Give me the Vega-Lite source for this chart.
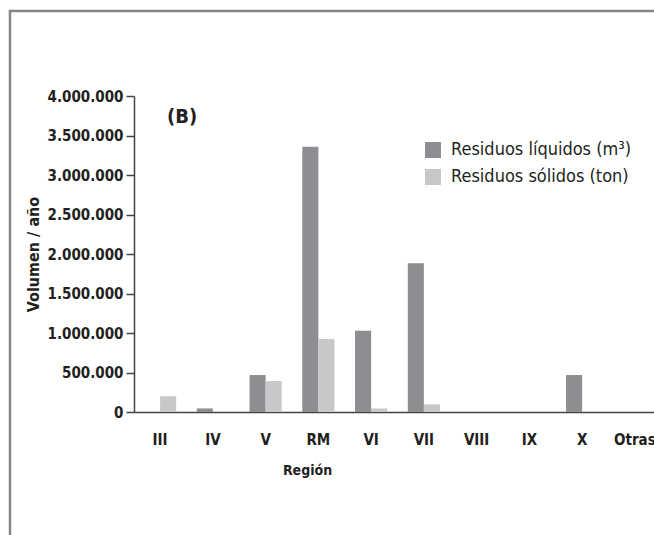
{
  "$schema": "https://vega.github.io/schema/vega-lite/v6.json",
  "width": 520,
  "height": 316,
  "autosize": {"type": "none"},
  "padding": {"left": 134, "top": 96, "right": 0, "bottom": 123},
  "background": "white",
  "title": {
    "text": "(B)",
    "anchor": "start",
    "frame": "group",
    "orient": "top",
    "offset": 0,
    "baseline": "top",
    "dx": 33,
    "dy": 117,
    "fontSize": 20,
    "fontWeight": "bold",
    "font": "DejaVu Sans Condensed",
    "color": "#231f20"
  },
  "config": {
    "locale": {"number": {"decimal": ",", "thousands": ".", "grouping": [3], "currency": ["$", ""]}},
    "font": "DejaVu Sans Condensed",
    "view": {"stroke": null},
    "axis": {"grid": false}
  },
  "layer": [
    {
      "data": {"values": [{"frame": "border"}]},
      "mark": {"type": "rect", "filled": false, "stroke": "#868686", "strokeWidth": 2.5, "clip": false},
      "encoding": {
        "x": {"datum": -0.2385, "type": "quantitative", "scale": {"domain": [0, 1], "nice": false, "zero": false}, "axis": null},
        "x2": {"datum": 1.1},
        "y": {"datum": 1.269, "type": "quantitative", "scale": {"domain": [0, 1], "nice": false, "zero": false}, "axis": null},
        "y2": {"datum": -0.6}
      }
    },
    {
      "data": {
        "values": [
          {"region": "III", "serie": "Residuos líquidos (m³)", "valor": 0},
          {"region": "III", "serie": "Residuos sólidos (ton)", "valor": 200000},
          {"region": "IV", "serie": "Residuos líquidos (m³)", "valor": 45000},
          {"region": "IV", "serie": "Residuos sólidos (ton)", "valor": 0},
          {"region": "V", "serie": "Residuos líquidos (m³)", "valor": 468000},
          {"region": "V", "serie": "Residuos sólidos (ton)", "valor": 392000},
          {"region": "RM", "serie": "Residuos líquidos (m³)", "valor": 3358000},
          {"region": "RM", "serie": "Residuos sólidos (ton)", "valor": 924000},
          {"region": "VI", "serie": "Residuos líquidos (m³)", "valor": 1030000},
          {"region": "VI", "serie": "Residuos sólidos (ton)", "valor": 45000},
          {"region": "VII", "serie": "Residuos líquidos (m³)", "valor": 1882000},
          {"region": "VII", "serie": "Residuos sólidos (ton)", "valor": 97000},
          {"region": "VIII", "serie": "Residuos líquidos (m³)", "valor": 0},
          {"region": "VIII", "serie": "Residuos sólidos (ton)", "valor": 0},
          {"region": "IX", "serie": "Residuos líquidos (m³)", "valor": 0},
          {"region": "IX", "serie": "Residuos sólidos (ton)", "valor": 0},
          {"region": "X", "serie": "Residuos líquidos (m³)", "valor": 468000},
          {"region": "X", "serie": "Residuos sólidos (ton)", "valor": 0},
          {"region": "Otras", "serie": "Residuos líquidos (m³)", "valor": 0},
          {"region": "Otras", "serie": "Residuos sólidos (ton)", "valor": 0}
        ]
      },
      "mark": {"type": "bar", "clip": false},
      "encoding": {
        "x": {
          "field": "region",
          "type": "nominal",
          "sort": ["III", "IV", "V", "RM", "VI", "VII", "VIII", "IX", "X", "Otras"],
          "scale": {"range": [0, 527], "paddingInner": 0.39, "paddingOuter": 0.19},
          "axis": {
            "title": "Región",
            "labelAngle": 0,
            "ticks": false,
            "labelPadding": 20,
            "labelFontSize": 15,
            "labelFontWeight": "bold",
            "labelColor": "#231f20",
            "titleFontSize": 14,
            "titleFontWeight": "bold",
            "titleColor": "#231f20",
            "titlePadding": 16,
            "titleX": 173,
            "domainColor": "#444444",
            "domainWidth": 1.5
          }
        },
        "xOffset": {"field": "serie", "type": "nominal", "sort": ["Residuos líquidos (m³)", "Residuos sólidos (ton)"]},
        "y": {
          "field": "valor",
          "type": "quantitative",
          "scale": {"domain": [0, 4000000], "nice": false},
          "axis": {
            "title": "Volumen / año",
            "values": [0, 500000, 1000000, 1500000, 2000000, 2500000, 3000000, 3500000, 4000000],
            "format": ",d",
            "tickSize": 8,
            "tickColor": "#444444",
            "tickWidth": 1.5,
            "labelPadding": 3,
            "labelFontSize": 15,
            "labelFontWeight": "bold",
            "labelColor": "#231f20",
            "titleFontSize": 16,
            "titleFontWeight": "bold",
            "titleColor": "#231f20",
            "titlePadding": 6,
            "domainColor": "#444444",
            "domainWidth": 1.5
          }
        },
        "color": {
          "field": "serie",
          "type": "nominal",
          "sort": ["Residuos líquidos (m³)", "Residuos sólidos (ton)"],
          "scale": {"range": ["#8d8e92", "#c7c8ca"]},
          "legend": {
            "title": null,
            "orient": "none",
            "legendX": 290,
            "legendY": 45,
            "padding": 0,
            "symbolType": "square",
            "symbolSize": 256,
            "symbolStrokeWidth": 0,
            "labelFontSize": 18,
            "labelColor": "#231f20",
            "labelOffset": 9,
            "rowPadding": 9,
            "labelLimit": 300
          }
        }
      }
    }
  ],
  "resolve": {"scale": {"x": "independent", "y": "independent"}}
}
